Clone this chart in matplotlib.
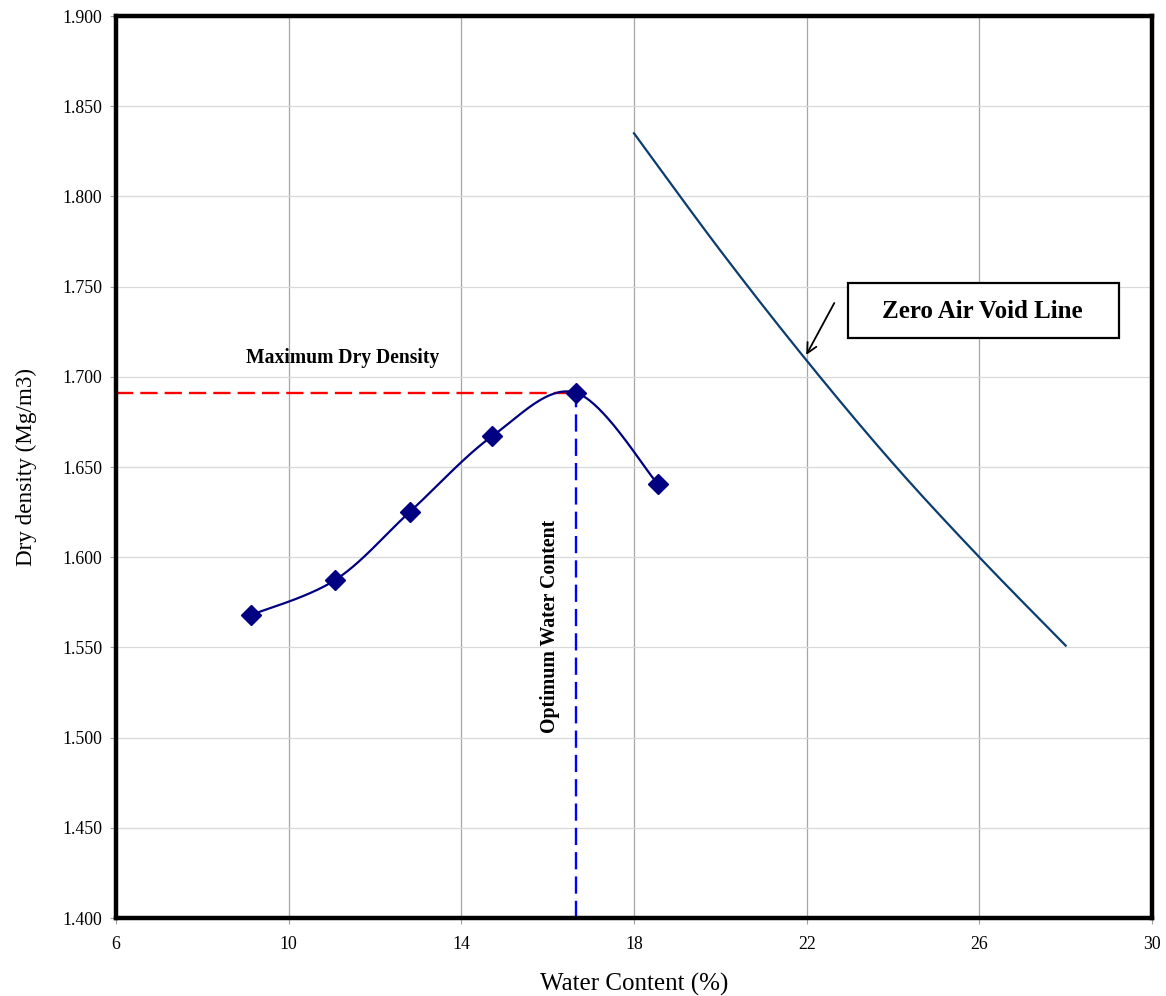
import numpy as np
import matplotlib
matplotlib.use("Agg")
import matplotlib.pyplot as plt
from matplotlib.patches import Rectangle

# Compaction test data
water_content = [9.13, 11.08, 12.81, 14.72, 16.65, 18.55]
dry_density = [1.568, 1.5874, 1.6252, 1.6672, 1.6912, 1.6406]

# Zero air void line
zav_water = [18, 20, 22, 24, 26, 28]
zav_density = [1.835, 1.770, 1.709, 1.652, 1.600, 1.551]

mdd = 1.6909
omc = 16.65

x_ticks = [6, 10, 14, 18, 22, 26, 30]
y_ticks = [1.400, 1.450, 1.500, 1.550, 1.600, 1.650, 1.700, 1.750, 1.800, 1.850, 1.900]


def excel_smooth(x, y, n=40):
    x = np.asarray(x, float)
    y = np.asarray(y, float)
    px = np.concatenate([[x[0]], x, [x[-1]]])
    py = np.concatenate([[y[0]], y, [y[-1]]])
    ox, oy = [], []
    for i in range(1, len(px) - 2):
        p0 = np.array([px[i - 1], py[i - 1]])
        p1 = np.array([px[i], py[i]])
        p2 = np.array([px[i + 1], py[i + 1]])
        p3 = np.array([px[i + 2], py[i + 2]])
        c1 = p1 + (p2 - p0) / 6.0
        c2 = p2 - (p3 - p1) / 6.0
        t = np.linspace(0, 1, n)[:, None]
        b = ((1 - t) ** 3) * p1 + 3 * ((1 - t) ** 2) * t * c1 + 3 * (1 - t) * t ** 2 * c2 + t ** 3 * p2
        ox.extend(b[:, 0])
        oy.extend(b[:, 1])
    return np.array(ox), np.array(oy)


plt.rcParams['font.family'] = ['Liberation Serif', 'DejaVu Serif']

W, H = 1166, 996
fig = plt.figure(figsize=(W / 100, H / 100), dpi=100)
ax = fig.add_axes([116 / W, 1 - 918 / H, (1152 - 116) / W, (918 - 16) / H])

ax.set_xlim(6, 30)
ax.set_ylim(1.4, 1.9)
ax.set_xticks(x_ticks)
ax.set_yticks(y_ticks)
ax.set_yticklabels([f"{v:.3f}" for v in y_ticks])

for xv in x_ticks[1:-1]:
    ax.axvline(xv, color='#a6a6a6', lw=0.9, zorder=0)
for yv in y_ticks[1:-1]:
    ax.axhline(yv, color='#d9d9d9', lw=0.9, zorder=0)

for s in ax.spines.values():
    s.set_linewidth(3.2)
    s.set_color('black')

ax.tick_params(axis='both', colors='#a0a0a0', length=4, width=0.8, labelsize=12.8,
               labelcolor='black')
ax.tick_params(axis='x', pad=9)
ax.tick_params(axis='y', pad=6)

ax.set_xlabel("Water Content (%)", fontsize=18, labelpad=14)
ax.set_ylabel("Dry density (Mg/m3)", fontsize=16.7, labelpad=18)

# smoothed compaction curve
sx, sy = excel_smooth(water_content, dry_density)
ax.plot(sx, sy, color='#000080', lw=1.6, zorder=3)
ax.plot(water_content, dry_density, linestyle='none', marker='D', markersize=10,
        color='#000080', zorder=4)

# zero air void line
zx, zy = excel_smooth(zav_water, zav_density)
ax.plot(zx, zy, color='#0b3d6f', lw=1.6, zorder=3)

# reference lines
ax.plot([6, omc], [mdd, mdd], color='#ff0000', lw=1.7, dashes=(7.3, 3.0), zorder=2)
ax.plot([omc, omc], [1.4, mdd], color='#0000ff', lw=1.7, dashes=(7.3, 3.0), zorder=2)

ax.text(11.25, 1.7104, "Maximum Dry Density", fontsize=14.1, fontweight='bold',
        ha='center', va='center')
ax.text(16.05, 1.5619, "Optimum Water Content", fontsize=14.3, fontweight='bold',
        rotation=90, ha='center', va='center')

# Zero air void label box
ax.add_patch(Rectangle((22.96, 1.7213), 29.23 - 22.96, 1.7518 - 1.7213,
                       fc='white', ec='black', lw=1.6, zorder=5))
ax.text(26.08, 1.7361, "Zero Air Void Line", fontsize=18, fontweight='bold',
        ha='center', va='center', zorder=6)
ax.annotate("", xy=(21.99, 1.7121), xytext=(22.64, 1.7409),
            arrowprops=dict(arrowstyle='->', color='black', lw=1.3,
                            shrinkA=0, shrinkB=0, mutation_scale=18),
            zorder=6)

fig.savefig("out.png", dpi=100)
